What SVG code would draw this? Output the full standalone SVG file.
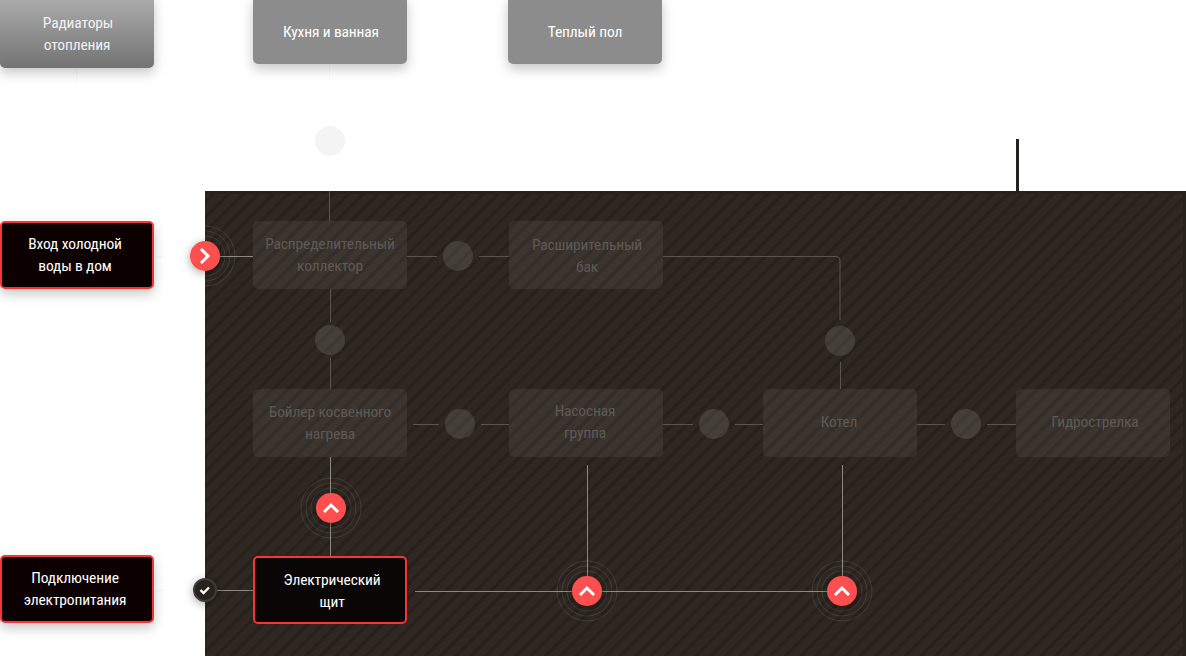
<svg xmlns="http://www.w3.org/2000/svg" width="1186" height="656" viewBox="0 0 1186 656">
<style>
text{font-family:"Liberation Sans Narrow","Roboto Condensed","Liberation Sans",sans-serif;font-size:15.500px;letter-spacing:-.15px;text-anchor:middle}
.w{fill:#fff}.d{fill:#5f5a56}
.g{fill:#8c8c8c;filter:url(#sh)}
.k{fill:#0a0605;stroke:#f83535;stroke-width:2;filter:url(#sh)}
.n{fill:#fff;fill-opacity:.06}
.c{fill:#fff;fill-opacity:.11}
.l{stroke:#59544f;stroke-width:1;fill:none}
.b{stroke:#8a8784;stroke-width:1;fill:none}
.f{stroke:#f8f8f8;stroke-width:1;fill:none}
.r{fill:none;stroke:#fff;stroke-opacity:.1}
.a{fill:#fd5050;filter:url(#sh2)}
.ar{fill:none;stroke:#fff;stroke-width:3}
</style>
<defs>
<linearGradient id="gr" x1="0" y1="0" x2="0" y2="1"><stop offset="0" stop-color="#adadad"/><stop offset="1" stop-color="#737373"/></linearGradient>
<pattern id="st" width="10.600" height="10.600" patternUnits="userSpaceOnUse" patternTransform="rotate(45)"><rect width="10.600" height="10.600" fill="#2f2822"/><rect width="3.600" height="10.600" fill="#27211c"/></pattern>
<filter id="sh" x="-20%" y="-30%" width="140%" height="170%"><feDropShadow dx="0" dy="5" stdDeviation="6" flood-color="#000" flood-opacity=".22"/></filter>
<filter id="sh2" x="-50%" y="-50%" width="200%" height="200%"><feDropShadow dx="0" dy="2" stdDeviation="5" flood-color="#000" flood-opacity=".35"/></filter>
</defs>
<g id="panel"><rect x="205" y="191" width="981" height="465" fill="#27211c"/><rect x="205" y="194" width="978" height="462" fill="url(#st)"/><rect x="1016" y="139" width="3" height="52" fill="#27211c"/></g>
<g id="connectors">
<path class="f" d="M76.500 68V82M329.500 64V80M154 256.500H166M154 590.500H166"/>
<path class="l" d="M329.500 191V221M330.500 289V322M330.500 358V389M407 256.500H437M479 256.500H509M663 256.500H836a4 4 0 0 1 4 4V320M840.500 362V389M413 424.500H439M481 424.500H509M663 424.500H693M735 424.500H763M917 424.500H945M987 424.500H1016"/>
<path class="b" d="M205 256.500H253M330.500 457V556M216 590.500H254M415 591.500H842M587.500 465V591M842.500 465V591"/>
</g>
<g id="radiators"><rect x="0" y="-4" width="154" height="72" rx="5" fill="url(#gr)" filter="url(#sh)"/><text class="w" x="78" y="28" fill-opacity=".9">Радиаторы</text><text class="w" x="77" y="49.500" fill-opacity=".9">отопления</text></g>
<g id="kitchen"><rect class="g" x="253" y="-4" width="154" height="68" rx="5"/><text class="w" x="331" y="37">Кухня и ванная</text></g>
<g id="floor"><rect class="g" x="508" y="-4" width="154" height="68" rx="5"/><text class="w" x="585" y="37">Теплый пол</text></g>
<g id="ghost"><circle cx="330" cy="141" r="15" fill="#f4f4f4"/></g>
<g id="cold-in"><rect class="k" x="1" y="222" width="152" height="66" rx="4"/><text class="w" x="75" y="249">Вход холодной</text><text class="w" x="75" y="270.500">воды в дом</text></g>
<g id="power"><rect class="k" x="1" y="556" width="152" height="66" rx="4"/><text class="w" x="75" y="583">Подключение</text><text class="w" x="75" y="604.500">электропитания</text></g>
<g id="collector"><rect class="n" x="253" y="221" width="154" height="68" rx="5"/><text class="d" x="330" y="249">Распределительный</text><text class="d" x="330" y="270.500">коллектор</text></g>
<g id="tank"><rect class="n" x="509" y="221" width="154" height="68" rx="5"/><text class="d" x="587" y="250">Расширительный</text><text class="d" x="587" y="271.500">бак</text></g>
<g id="boiler"><rect class="n" x="253" y="389" width="154" height="68" rx="5"/><text class="d" x="330" y="417">Бойлер косвенного</text><text class="d" x="330" y="438.500">нагрева</text></g>
<g id="pump"><rect class="n" x="509" y="389" width="154" height="68" rx="5"/><text class="d" x="585" y="416">Насосная</text><text class="d" x="585" y="437.500">группа</text></g>
<g id="kotel"><rect class="n" x="763" y="389" width="154" height="68" rx="5"/><text class="d" x="839" y="427">Котел</text></g>
<g id="hydro"><rect class="n" x="1016" y="389" width="154" height="68" rx="5"/><text class="d" x="1095" y="427">Гидрострелка</text></g>
<g id="shield"><rect x="254" y="557" width="152" height="66" rx="4" fill="#0a0605" stroke="#f83535" stroke-width="2"/><text class="w" x="332" y="585">Электрический</text><text class="w" x="332" y="606.500">щит</text></g>
<g id="dots"><circle class="c" cx="458" cy="256" r="15"/><circle class="c" cx="330" cy="340" r="15"/><circle class="c" cx="840" cy="341" r="15"/><circle class="c" cx="460" cy="424" r="15"/><circle class="c" cx="714" cy="424" r="15"/><circle class="c" cx="966" cy="424" r="15"/></g>
<g id="ctl-in"><clipPath id="cp"><rect x="205" y="191" width="100" height="140"/></clipPath><g clip-path="url(#cp)"><circle class="r" cx="205" cy="256" r="20"/><circle class="r" cx="205" cy="256" r="25"/><circle class="r" cx="205" cy="256" r="30" stroke-opacity=".06"/></g><circle class="a" cx="205" cy="256" r="15"/><path class="ar" d="M201 249l7 7-7 7"/></g>
<g id="ctl-1"><circle class="r" cx="331" cy="508" r="20"/><circle class="r" cx="331" cy="508" r="25"/><circle class="r" cx="331" cy="508" r="30" stroke-opacity=".06"/><circle class="a" cx="331" cy="508" r="15"/><path class="ar" d="M324 512l7-7 7 7"/></g>
<g id="ctl-2"><circle class="r" cx="587" cy="591" r="20"/><circle class="r" cx="587" cy="591" r="25"/><circle class="r" cx="587" cy="591" r="30" stroke-opacity=".06"/><circle class="a" cx="587" cy="591" r="15"/><path class="ar" d="M580 595l7-7 7 7"/></g>
<g id="ctl-3"><circle class="r" cx="842" cy="591" r="20"/><circle class="r" cx="842" cy="591" r="25"/><circle class="r" cx="842" cy="591" r="30" stroke-opacity=".06"/><circle class="a" cx="842" cy="591" r="15"/><path class="ar" d="M835 595l7-7 7 7"/></g>
<g id="check"><circle cx="205" cy="590" r="11" fill="#27211c" stroke="#3f3a36" stroke-width="2" filter="url(#sh2)"/><path d="M200.500 590l3 3 5.500-5.500" fill="none" stroke="#fff" stroke-width="2.400"/></g>
</svg>
